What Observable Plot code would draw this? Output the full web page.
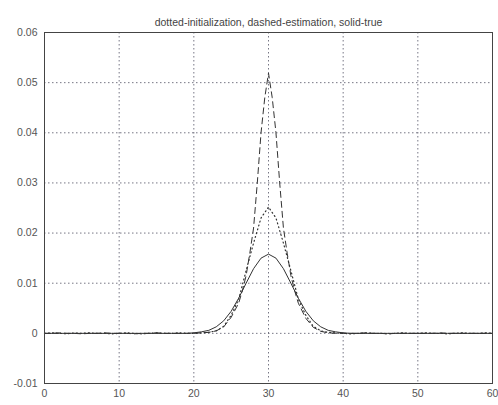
<!DOCTYPE html>
<html>
<head>
<meta charset="utf-8">
<script src="https://cdn.jsdelivr.net/npm/d3@7"></script>
<script src="https://cdn.jsdelivr.net/npm/@observablehq/plot@0.6"></script>
<style>
  html, body { margin: 0; padding: 0; background: #fff; }
  #chart svg { display: block; }
</style>
</head>
<body>
<div id="chart"></div>
<script>
const title = "dotted-initialization, dashed-estimation, solid-true";
const xTicks = [0, 10, 20, 30, 40, 50, 60];
const yTicks = [-0.01, 0, 0.01, 0.02, 0.03, 0.04, 0.05, 0.06];
const yTickLabels = ["-0.01", "0", "0.01", "0.02", "0.03", "0.04", "0.05", "0.06"];

// solid: true density (integer x 0..60)
const trueX = d3.range(0, 61);
const trueY = [
  0, 0, 0, 0, 0, 0, 0, 0, 0, 0,
  0, 0, 0, 0, 0, 0, 0, 0, 0, 0,
  0.0001, 0.0003, 0.0006, 0.0013, 0.0025, 0.0044, 0.0070, 0.0100, 0.0129, 0.0150,
  0.0158, 0.0150, 0.0129, 0.0100, 0.0070, 0.0044, 0.0025, 0.0013, 0.0006, 0.0003,
  0.0001, 0, 0, 0, 0, 0, 0, 0, 0, 0,
  0, 0, 0, 0, 0, 0, 0, 0, 0, 0, 0
];

// dotted: initialization (integer x 0..60)
const initX = d3.range(0, 61);
const initY = [
  0, 0.0001, 0, -0.0001, 0.0001, 0, 0.0001, 0, 0, -0.0001,
  0, 0.0001, 0, -0.0001, 0, 0.0001, 0, 0, 0.0001, 0,
  0, 0.0001, 0.0002, 0.0005, 0.0014, 0.0036, 0.0068, 0.0125, 0.0180, 0.0230,
  0.0252, 0.0230, 0.0180, 0.0125, 0.0068, 0.0036, 0.0014, 0.0005, 0.0002, 0.0001,
  0, -0.0001, 0, 0.0001, 0, 0, -0.0001, 0, 0.0001, 0,
  0, 0.0001, 0, 0, -0.0001, 0, 0.0001, 0, 0, 0.0001, 0
];

// dashed: estimation
const estX = [
  0, 1, 2, 3, 4, 5, 6, 7, 8, 9,
  10, 11, 12, 13, 14, 15, 16, 17, 18, 19,
  20, 21, 22, 23, 24, 25, 26, 26.5, 27, 27.5,
  28, 28.5, 29, 29.5, 30, 30.5, 31, 31.5, 32, 32.5,
  33, 33.5, 34, 35, 36, 37, 38, 39, 40, 41,
  42, 43, 44, 45, 46, 47, 48, 49, 50, 51,
  52, 53, 54, 55, 56, 57, 58, 59, 60
];
const estY = [
  0, 0, 0.0001, 0, 0, -0.0001, 0, 0, 0.0001, 0,
  0, 0, -0.0001, 0, 0, 0.0001, 0, 0, 0, 0,
  0, 0.0001, 0.0002, 0.0005, 0.0013, 0.0032, 0.0060, 0.0085, 0.0115, 0.0160,
  0.0210, 0.0300, 0.0400, 0.0470, 0.0519, 0.0470, 0.0400, 0.0300, 0.0210, 0.0160,
  0.0115, 0.0085, 0.0060, 0.0030, 0.0012, 0.0004, 0.0001, 0, 0, 0,
  0, 0.0001, 0, 0, -0.0001, 0, 0, 0, 0, 0,
  0, 0.0001, 0, 0, 0, 0, 0, 0, 0
];

const trueData = trueX.map((x, i) => ({x, y: trueY[i]}));
const initData = initX.map((x, i) => ({x, y: initY[i]}));
const estData = estX.map((x, i) => ({x, y: estY[i]}));

const chart = Plot.plot({
  width: 498,
  height: 405,
  marginTop: 32,
  marginLeft: 44,
  marginRight: 6,
  marginBottom: 22,
  style: {fontFamily: "'Liberation Sans', Arial, sans-serif", fontSize: "10.5px", color: "#444", background: "#fff"},
  x: {domain: [0, 60], ticks: xTicks},
  y: {domain: [-0.01, 0.06], ticks: yTicks},
  marks: [
    Plot.gridX(xTicks.slice(1, -1), {stroke: "#556", strokeOpacity: 0.8, strokeDasharray: "1.5,2.5"}),
    Plot.gridY(yTicks.slice(1, -1), {stroke: "#556", strokeOpacity: 0.8, strokeDasharray: "1.5,2.5"}),
    Plot.axisX(xTicks, {tickSize: 0, tickPadding: 6, label: null, fill: "#555", tickFormat: d => String(d)}),
    Plot.axisY(yTicks, {tickSize: 0, tickPadding: 7, label: null, fill: "#555", tickFormat: (d, i) => yTickLabels[i]}),
    Plot.line(trueData, {x: "x", y: "y", stroke: "#333", strokeWidth: 1}),
    Plot.line(initData, {x: "x", y: "y", stroke: "#333", strokeWidth: 1.2, strokeDasharray: "1,3"}),
    Plot.line(estData, {x: "x", y: "y", stroke: "#333", strokeWidth: 1, strokeDasharray: "6,4"}),
    Plot.frame({stroke: "#444", strokeWidth: 1}),
    Plot.text([title], {frameAnchor: "top", dy: -14, fill: "#444", fontSize: 10.5})
  ]
});
document.getElementById("chart").appendChild(chart);
</script>
</body>
</html>
